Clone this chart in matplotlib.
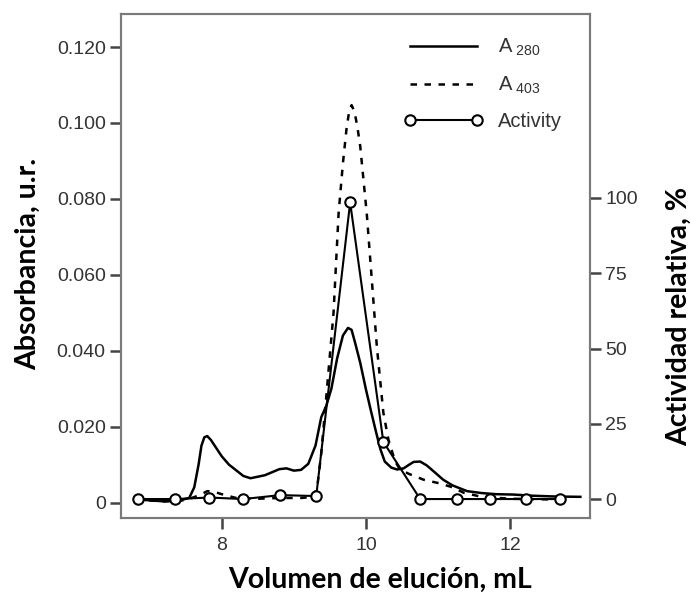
import matplotlib
matplotlib.use("Agg")
import matplotlib.pyplot as plt
from matplotlib.lines import Line2D

plt.rcParams['mathtext.fontset'] = 'custom'
plt.rcParams['mathtext.rm'] = 'Liberation Sans'
plt.rcParams['mathtext.it'] = 'Liberation Sans:italic'
plt.rcParams['mathtext.bf'] = 'Liberation Sans:bold'

# ---- data ----
a280_x = [6.80, 7.00, 7.20, 7.40, 7.55, 7.62, 7.68, 7.72, 7.76, 7.80, 7.85, 7.92, 8.00, 8.10,
          8.20, 8.30, 8.40, 8.50, 8.60, 8.70, 8.80, 8.90, 9.00, 9.10, 9.20, 9.30, 9.38, 9.45,
          9.52, 9.60, 9.68, 9.75, 9.80, 9.85, 9.92, 10.00, 10.07, 10.14, 10.20, 10.26, 10.35,
          10.43, 10.52, 10.60, 10.66, 10.75, 10.84, 10.95, 11.07, 11.20, 11.40, 11.60, 11.80,
          12.04, 12.30, 12.60, 12.97]
a280_y = [0.0008, 0.0006, 0.0003, 0.0005, 0.0012, 0.0040, 0.0100, 0.0150, 0.0172, 0.0175,
          0.0165, 0.0145, 0.0122, 0.0100, 0.0085, 0.0070, 0.0064, 0.0068, 0.0072, 0.0080,
          0.0088, 0.0090, 0.0084, 0.0086, 0.0102, 0.0150, 0.0225, 0.0255, 0.0300, 0.0380,
          0.0440, 0.0460, 0.0455, 0.0420, 0.0368, 0.0297, 0.0240, 0.0185, 0.0140, 0.0108,
          0.0092, 0.0087, 0.0090, 0.0100, 0.0107, 0.0108, 0.0098, 0.0080, 0.0060, 0.0045,
          0.0030, 0.0025, 0.0022, 0.0021, 0.0018, 0.0016, 0.0015]

a403_x = [6.80, 7.20, 7.50, 7.70, 7.80, 7.90, 8.00, 8.20, 8.50, 8.80, 9.10, 9.28, 9.33, 9.38,
          9.45, 9.55, 9.62, 9.68, 9.73, 9.77, 9.80, 9.84, 9.88, 9.92, 10.01, 10.08, 10.15,
          10.24, 10.31, 10.40, 10.47, 10.60, 10.80, 11.03, 11.20, 11.35, 11.60, 12.00, 12.60]
a403_y = [0.0008, 0.0003, 0.0006, 0.0020, 0.0030, 0.0028, 0.0022, 0.0012, 0.0010, 0.0012,
          0.0012, 0.0015, 0.0050, 0.0130, 0.0280, 0.0500, 0.0762, 0.0894, 0.0985, 0.1035,
          0.1047, 0.1030, 0.0990, 0.0938, 0.0762, 0.0587, 0.0411, 0.0237, 0.0166, 0.0110,
          0.0087, 0.0075, 0.0060, 0.0050, 0.0040, 0.0026, 0.0015, 0.0010, 0.0008]

act_x = [6.84, 7.35, 7.83, 8.30, 8.81, 9.31, 9.78, 10.24, 10.75, 11.26, 11.72, 12.21, 12.69]
act_y = [0, 0, 0.5, 0, 1.3, 1.0, 98.5, 19.0, 0, 0, 0, 0, 0]

left_ticks = [0, 0.020, 0.040, 0.060, 0.080, 0.100, 0.120]
left_labels = ['0', '0.020', '0.040', '0.060', '0.080', '0.100', '0.120']
right_ticks = [0, 25, 50, 75, 100]
x_ticks = [8, 10, 12]

# ---- figure ----
fig = plt.figure(figsize=(6.91, 5.99), dpi=100)
ax = fig.add_axes([0.175, 0.1352, 0.679, 0.8414])
ax2 = ax.twinx()

tick_font = dict(family='Liberation Sans', size=14, color='#333333')
spine_col = '#7a7a7a'

ax.plot(a280_x, a280_y, color='black', lw=1.8)
ax.plot(a403_x, a403_y, color='black', lw=1.8, dashes=(2.6, 3.0))
ax2.plot(act_x, act_y, color='black', lw=1.5, marker='o', ms=7.5, mfc='white', mec='black',
         mew=1.5)

ax.set_xlim(6.604, 13.105)
ax.set_ylim(-0.00408, 0.1287)
ax2.set_ylim(-6.3, 161.1)

ax.set_xticks(x_ticks)
ax.set_xticklabels([str(t) for t in x_ticks], fontdict=tick_font)
ax.set_yticks(left_ticks)
ax.set_yticklabels(left_labels, fontdict=tick_font)
ax2.set_yticks(right_ticks)
ax2.set_yticklabels([str(t) for t in right_ticks], fontdict=tick_font)

for a in (ax, ax2):
    for s in a.spines.values():
        s.set_color(spine_col)
        s.set_linewidth(1.5)
    a.tick_params(direction='out', length=8, width=1.8, color='#444444', pad=3)
ax.tick_params(axis='x', pad=6)

lab_font = dict(family='Lato', weight='bold', size=20.5, color='black')
ax.set_xlabel('Volumen de elución, mL', **lab_font)
ax.xaxis.set_label_coords(0.553, -0.097)
ax.set_ylabel('Absorbancia, u.r.', **lab_font)
ax.yaxis.set_label_coords(-0.17, 0.505)
ax2.set_ylabel('Actividad relativa, %', **lab_font)
ax2.yaxis.set_label_coords(1.162, 0.40)

handles = [Line2D([], [], color='black', lw=1.8),
           Line2D([], [], color='black', lw=1.8, dashes=(2.6, 3.0)),
           Line2D([], [], color='black', lw=1.5, marker='o', ms=7.5, mfc='white',
                  mec='black', mew=1.5)]
labels = [r'A$_{\mathregular{\ 280}}$', r'A$_{\mathregular{\ 403}}$', 'Activity']
leg = ax.legend(handles, labels, loc='upper right', bbox_to_anchor=(0.978, 0.99),
                frameon=False, numpoints=2, handlelength=3.9, handletextpad=0.75,
                labelspacing=0.8, prop={'family': 'Liberation Sans', 'size': 14.5})
for t in leg.get_texts():
    t.set_color('#333333')

fig.savefig('out.png', dpi=100)
